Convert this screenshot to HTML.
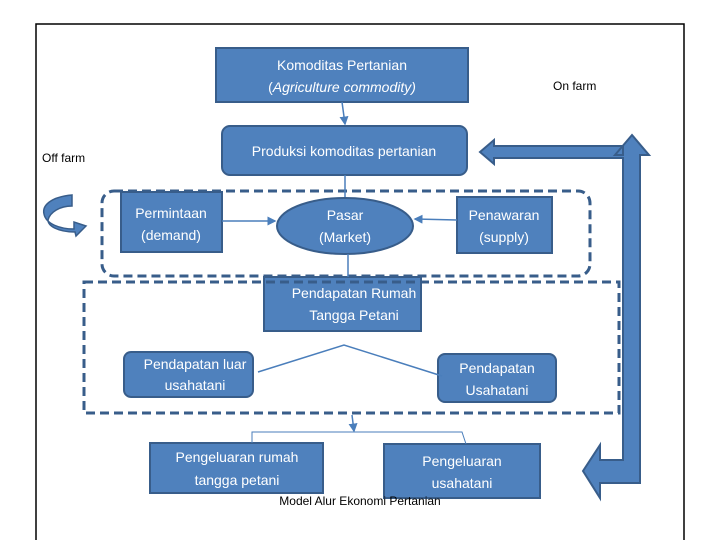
<!DOCTYPE html>
<html><head><style>
body{margin:0;background:#fff;}
svg{display:block;font-family:"Liberation Sans",sans-serif;}
</style></head><body>
<svg width="720" height="540" viewBox="0 0 720 540" xmlns="http://www.w3.org/2000/svg">
<defs><marker id="ah" markerWidth="6" markerHeight="6" refX="5" refY="3" orient="auto"><path d="M0,0 L6,3 L0,6 z" fill="#4a7ebb"/></marker></defs>
<rect x="36" y="24" width="648" height="530" fill="#fff" stroke="#000" stroke-width="1.5"/>
<g fill="#4f81bd" stroke="#385d8a" stroke-width="2">
<rect x="216" y="48" width="252" height="54"/>
<rect x="222" y="126" width="245" height="49" rx="8"/>
<rect x="121" y="192" width="101" height="60"/>
<ellipse cx="345" cy="226" rx="68" ry="28"/>
<rect x="457" y="197" width="95" height="56"/>
<rect x="264" y="277" width="157" height="54"/>
<rect x="124" y="352" width="129" height="45" rx="7"/>
<rect x="438" y="354" width="118" height="48" rx="7"/>
<rect x="150" y="443" width="173" height="50"/>
<rect x="384" y="444" width="156" height="54"/>
</g>
<path d="M480,152 L494,140 L494,146 L623,146 L623,155 L615,155 L632,135 L649,155 L640,155 L640,483 L600,483 L600,498 L583,471 L600,445 L600,460 L623,460 L623,158 L494,158 L494,164 Z" fill="#4f81bd" stroke="#385d8a" stroke-width="2"/>
<!-- curved arrow off farm -->
<path d="M72,195 C50,197 42,206 44,214 C46,224 60,229 74,229 L74,222 L86,226 L76,236 L75,232 C58,232 48,226 48,220 C50,212 60,206 72,206 Z" fill="#4f81bd" stroke="#385d8a" stroke-width="1.5"/>
<g fill="none" stroke="#385d8a" stroke-width="3" stroke-dasharray="9,5">
<rect x="102" y="191" width="488" height="85" rx="12"/>
<rect x="84" y="282" width="535" height="131"/>
</g>
<g stroke="#4a7ebb" stroke-width="1.5" fill="none">
<line x1="342" y1="102" x2="345" y2="124" marker-end="url(#ah)"/>
<line x1="345" y1="175" x2="345" y2="197"/>
<line x1="222" y1="221" x2="275" y2="221" marker-end="url(#ah)"/>
<line x1="457" y1="220" x2="415" y2="219" marker-end="url(#ah)"/>
<line x1="348" y1="254" x2="348" y2="277"/>
<polyline points="258,372 344,345 442,376"/>
<line x1="352" y1="415" x2="354" y2="431" marker-end="url(#ah)"/>
<polyline points="252,443 252,432 462,432 466,444" stroke-width="1"/>
</g>
<g fill="#fff" font-size="14" text-anchor="middle">
<text x="342" y="70">Komoditas Pertanian</text>
<text x="342" y="92">(<tspan font-style="italic">Agriculture commodity)</tspan></text>
<text x="344" y="156">Produksi komoditas pertanian</text>
<text x="171" y="218">Permintaan</text><text x="171" y="240">(demand)</text>
<text x="345" y="220">Pasar</text><text x="345" y="242">(Market)</text>
<text x="504" y="220">Penawaran</text><text x="504" y="242">(supply)</text>
<text x="354" y="298">Pendapatan Rumah</text><text x="354" y="320">Tangga Petani</text>
<text x="195" y="369">Pendapatan luar</text><text x="195" y="390">usahatani</text>
<text x="497" y="373">Pendapatan</text><text x="497" y="395">Usahatani</text>
<text x="237" y="462">Pengeluaran rumah</text><text x="237" y="485">tangga petani</text>
<text x="462" y="466">Pengeluaran</text><text x="462" y="488">usahatani</text>
</g>
<g fill="#000" font-size="12">
<text x="553" y="90">On farm</text>
<text x="42" y="162">Off farm</text>
<text x="360" y="505" text-anchor="middle">Model Alur Ekonomi Pertanian</text>
</g>
</svg>
</body></html>
